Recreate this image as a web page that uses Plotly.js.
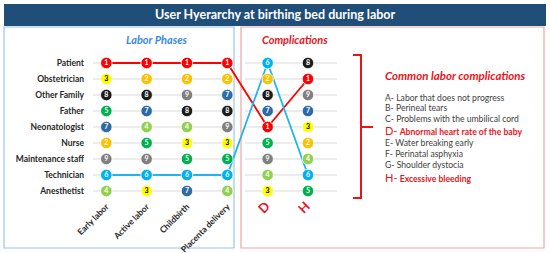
<!DOCTYPE html>
<html><head><meta charset="utf-8">
<script src="https://cdn.plot.ly/plotly-3.0.1.min.js"></script>
<style>body{margin:0;background:#fff}#chart{width:550px;height:253px}</style>
</head><body><div id="chart"></div>
<script>
// ---- data ----
const roles = ['Patient','Obstetrician','Other Family','Father','Neonatologist','Nurse','Maintenance staff','Technician','Anesthetist'];
const phases = ['Early labor','Active labor','Childbirth','Placenta delivery'];
const complications = ['D','H'];
const earlyLabor       = [1,3,8,5,7,2,9,6,4];
const activeLabor      = [1,2,8,7,4,5,9,6,3];
const childbirth       = [1,2,9,8,4,3,5,6,7];
const placentaDelivery = [1,2,7,8,9,3,5,6,4];
const complicationD    = [6,2,8,7,1,5,9,4,3];
const complicationH    = [8,1,9,7,3,2,4,6,5];
const trackedRanks = [1,6];
const listItems = [
  ['A-','Labor that does not progress'],
  ['B-','Perineal tears'],
  ['C-','Problems with the umbilical cord'],
  ['D-','Abnormal heart rate of the baby'],
  ['E-','Water breaking early'],
  ['F-','Perinatal asphyxia'],
  ['G-','Shoulder dystocia'],
  ['H-','Excessive bleeding']
];
const highlighted = ['D-','H-'];

// ---- styles ----
const W = 550, H = 253;
const px = x => x / W, py = y => 1 - y / H;
const rankColor = {1:'#ff0000',2:'#ffc000',3:'#ffff00',4:'#92d050',5:'#00b050',6:'#00b0f0',7:'#2e6aa6',8:'#1c1c1c',9:'#7f7f7f'};
const rankText = {3:'#000000'};
const lineColor = {1:'#ff0000',6:'#22b4ee'};
const FONT = 'Lato, "Open Sans", sans-serif';
const RED = '#e8141c';

const columns = phases.concat(complications);
const ranks = [earlyLabor, activeLabor, childbirth, placentaDelivery, complicationD, complicationH];

// ---- traces ----
const traces = [];
trackedRanks.forEach(r => {
  traces.push({
    type:'scatter', mode:'lines', hoverinfo:'skip', showlegend:false,
    x: columns, y: ranks.map(col => roles[col.indexOf(r)]),
    line:{color: lineColor[r], width: 1.8}
  });
});
const mx = [], my = [], mv = [];
ranks.forEach((col, ci) => col.forEach((v, ri) => { mx.push(columns[ci]); my.push(roles[ri]); mv.push(v); }));
traces.push({
  type:'scatter', mode:'markers+text', showlegend:false, hoverinfo:'skip',
  x: mx, y: my, text: mv.map(String), textposition:'middle center',
  marker:{size:11.5, color: mv.map(v => rankColor[v]), line:{color:'#ffffff', width:0.8}},
  textfont:{family: FONT, size:7, weight:'bold', color: mv.map(v => rankText[v] || '#ffffff')},
  cliponaxis:false
});

// ---- shapes ----
const shapes = [
  {type:'rect', xref:'paper', yref:'paper', x0:px(4), x1:px(546), y0:py(26), y1:py(4), fillcolor:'#1f4e79', line:{width:0}, layer:'below'},
  {type:'rect', xref:'paper', yref:'paper', x0:px(4), x1:px(234), y0:py(248), y1:py(27), line:{color:'#9dc3e6', width:1.2}, layer:'below'},
  {type:'rect', xref:'paper', yref:'paper', x0:px(241), x1:px(544), y0:py(248), y1:py(27), line:{color:'#f2a3a3', width:1.2}, layer:'below'},
  {type:'path', xref:'paper', yref:'paper', layer:'above', line:{color:RED, width:2},
   path:`M ${px(353)},${py(55)} L ${px(361)},${py(55)} L ${px(361)},${py(198)} L ${px(353)},${py(198)} M ${px(361)},${py(127)} L ${px(373)},${py(127)}`}
];
roles.forEach(r => {
  shapes.push({type:'line', xref:'paper', yref:'y', x0:px(93), x1:px(232), y0:r, y1:r, line:{color:'#ececec', width:2}, layer:'below'});
  shapes.push({type:'line', xref:'paper', yref:'y', x0:px(245), x1:px(337), y0:r, y1:r, line:{color:'#ececec', width:2}, layer:'below'});
});

// ---- annotations ----
const annotations = [
  {xref:'paper', yref:'paper', x:px(275), y:py(15), text:'<b>User Hyerarchy at birthing bed during labor</b>', showarrow:false,
   font:{family:FONT, size:12.5, color:'#ffffff'}, xanchor:'center', yanchor:'middle'},
  {xref:'paper', yref:'paper', x:px(157), y:py(39), text:'<b><i>Labor Phases</i></b>', showarrow:false,
   font:{family:FONT, size:11, color:'#3a8bdc'}, xanchor:'center', yanchor:'middle'},
  {xref:'paper', yref:'paper', x:px(295), y:py(39), text:'<b><i>Complications</i></b>', showarrow:false,
   font:{family:FONT, size:11, color:RED}, xanchor:'center', yanchor:'middle'},
  {xref:'paper', yref:'paper', x:px(383), y:py(75), text:'<b><i>Common labor complications</i></b>', showarrow:false,
   font:{family:FONT, size:11.5, color:RED}, xanchor:'left', yanchor:'middle'}
];
const listY = [97.5, 108.5, 119.5, 130.5, 143, 154, 165, 177];
listItems.forEach((it, i) => {
  const hi = highlighted.includes(it[0]);
  const text = hi
    ? `<span style="font-size:11px">${it[0]}</span> <b>${it[1]}</b>`
    : `${it[0]} ${it[1]}`;
  annotations.push({xref:'paper', yref:'paper', x:px(383), y:py(listY[i]), text, showarrow:false,
    font:{family:FONT, size:8.6, color: hi ? RED : '#404040'}, xanchor:'left', yanchor:'middle'});
});

const tickText = columns.map(c => complications.includes(c)
  ? `<span style="color:${RED};font-size:13px">${c}</span>` : c);

const layout = {
  width: W, height: H, margin:{l:0,r:0,t:0,b:0},
  paper_bgcolor:'#ffffff', plot_bgcolor:'rgba(0,0,0,0)',
  font:{family:FONT},
  xaxis:{type:'category', categoryarray: columns, domain:[px(93), px(337)], range:[-0.33, 5.72],
    tickvals: columns, ticktext: tickText, tickangle:-45, showgrid:false, zeroline:false, showline:false, ticks:'',
    tickfont:{family:FONT, size:8.5, weight:'bold', color:'#262626'}, fixedrange:true},
  yaxis:{type:'category', categoryarray: roles, domain:[py(199), py(55)], range:[8.5, -0.5],
    showgrid:false, zeroline:false, showline:false, ticks:'', ticklabelstandoff:8,
    tickfont:{family:FONT, size:8.5, weight:'bold', color:'#262626'}, fixedrange:true},
  shapes, annotations
};
Plotly.newPlot('chart', traces, layout, {staticPlot:true, displayModeBar:false});
</script></body></html>
